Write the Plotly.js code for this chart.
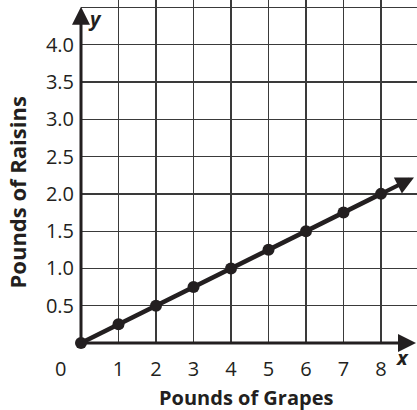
<!DOCTYPE html>
<html>
<head>
<meta charset="utf-8">
<script src="https://cdn.plot.ly/plotly-3.0.1.min.js"></script>
<style>html,body{margin:0;padding:0;background:#fff;}#chart{width:417px;height:410px;}</style>
</head>
<body>
<div id="chart"></div>
<script>
const grapes = [0, 1, 2, 3, 4, 5, 6, 7, 8];
const raisins = [0, 0.25, 0.5, 0.75, 1.0, 1.25, 1.5, 1.75, 2.0];
const xTickVals = [1, 2, 3, 4, 5, 6, 7, 8];
const xTickText = ['1', '2', '3', '4', '5', '6', '7', '8'];
const yTickVals = [0.5, 1.0, 1.5, 2.0, 2.5, 3.0, 3.5, 4.0];
const yTickText = ['0.5', '1.0', '1.5', '2.0', '2.5', '3.0', '3.5', '4.0'];
const xTitle = 'Pounds of Grapes';
const yTitle = 'Pounds of Raisins';

const FONT = '"Open Sans", "Noto Sans", sans-serif';
const INK = '#231f20';
const xMax = 8.96, yMax = 4.6;
const n = grapes.length;
const slope = (raisins[n-1] - raisins[0]) / (grapes[n-1] - grapes[0]);
const tipX = 8.88, tipY = raisins[n-1] + slope * (tipX - grapes[n-1]);

const trace = {
  x: grapes, y: raisins, type: 'scatter', mode: 'lines+markers',
  line: {color: INK, width: 4.5},
  marker: {color: INK, size: 12},
  cliponaxis: false, hoverinfo: 'skip'
};

function lab(text, x, y, xs, ys, size, extra) {
  return Object.assign({xref: 'paper', yref: 'paper', x: x, y: y, xshift: xs, yshift: ys,
    xanchor: 'center', yanchor: 'middle', text: text, showarrow: false,
    font: {size: size, family: FONT, color: INK}}, extra || {});
}

const layout = {
  width: 417, height: 410,
  margin: {l: 81, r: 0, t: 0, b: 67},
  paper_bgcolor: '#fff', plot_bgcolor: '#fff',
  showlegend: false,
  font: {family: FONT, color: INK, size: 20},
  xaxis: {
    range: [0, xMax], tickvals: xTickVals, ticktext: xTickText,
    showgrid: true, gridcolor: '#3a3a3a', gridwidth: 1.3,
    zeroline: false, showline: false, ticks: '',
    ticklabelstandoff: 12, tickfont: {size: 20, family: FONT, color: INK}
  },
  yaxis: {
    range: [0, yMax], tickvals: [...yTickVals, 4.5], ticktext: [...yTickText, ''],
    showgrid: true, gridcolor: '#3a3a3a', gridwidth: 1.3,
    zeroline: false, showline: false, ticks: '',
    ticklabelstandoff: 6, tickfont: {size: 20, family: FONT, color: INK}
  },
  annotations: [
    {xref: 'paper', yref: 'paper', x: 0, y: 0.98, ax: 0, ay: 0, axref: 'paper', ayref: 'paper',
     showarrow: true, arrowhead: 2, arrowsize: 1.2, arrowwidth: 3, arrowcolor: INK, text: ''},
    {xref: 'paper', yref: 'paper', x: 0.998, y: 0, ax: 0, ay: 0, axref: 'paper', ayref: 'paper',
     showarrow: true, arrowhead: 2, arrowsize: 1.2, arrowwidth: 3, arrowcolor: INK, text: ''},
    {x: tipX, y: tipY, ax: grapes[n-1], ay: raisins[n-1], axref: 'x', ayref: 'y',
     showarrow: true, arrowhead: 2, arrowsize: 0.9, arrowwidth: 4, arrowcolor: INK, text: ''},
    lab('0', 0, 0, -21, -25, 20),
    lab('<b><i>y</i></b>', 0, 1, 14, -18, 20),
    lab('<b><i>x</i></b>', 1, 0, -15, -14, 20),
    lab('<b>' + xTitle + '</b>', 0.5, 0, -3, -54, 20),
    lab('<b>' + yTitle + '</b>', 0, 0.5, -65, -21, 22, {textangle: -90})
  ]
};

Plotly.newPlot('chart', [trace], layout, {displayModeBar: false, staticPlot: true});
</script>
</body>
</html>
